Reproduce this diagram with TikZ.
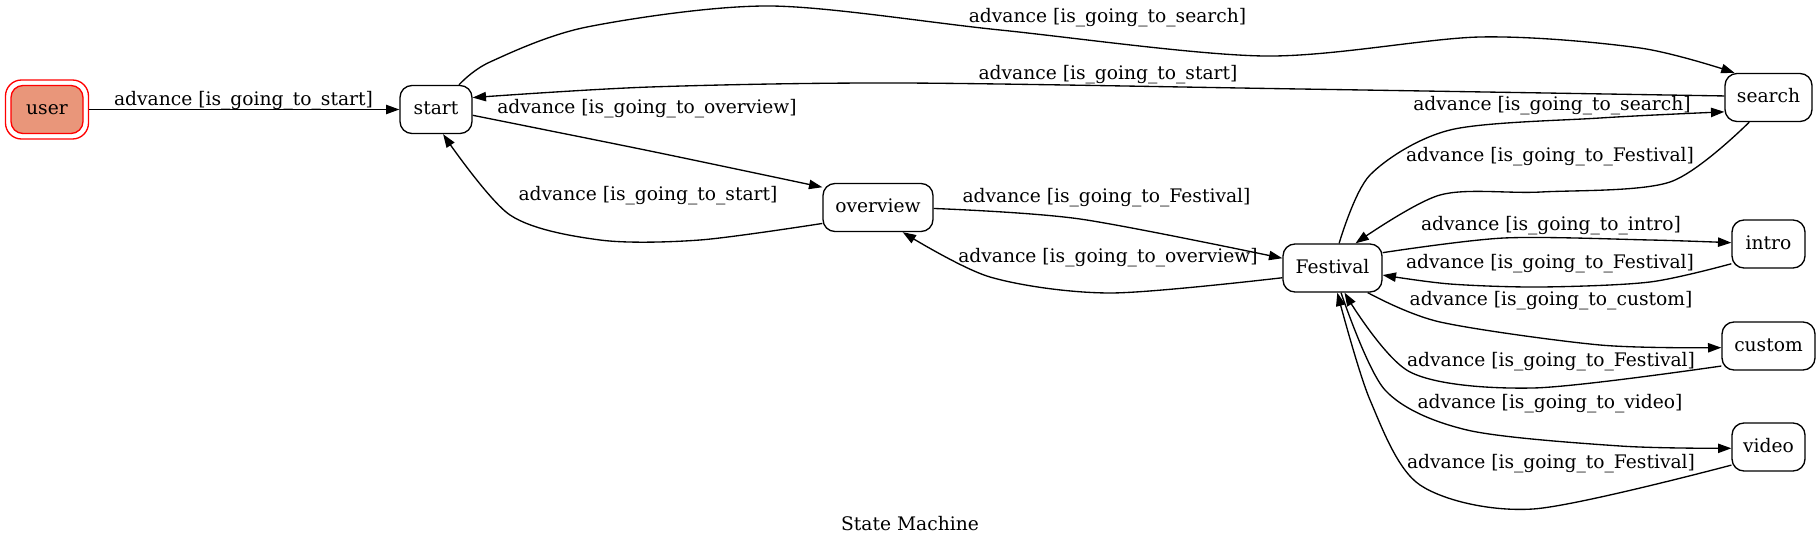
\documentclass[tikz,border=0pt]{standalone}
\usepackage{fontspec}
\setmainfont{DejaVu Serif}
\usetikzlibrary{arrows.meta,positioning}
\definecolor{UserSalmon}{HTML}{E9967A}
\definecolor{UserRed}{HTML}{FF0000}

\begin{document}
\begin{tikzpicture}[
    x=0.75pt, y=-0.75pt,
    font=\fontsize{14pt}{17pt}\selectfont,
    state/.style={draw, rounded corners=9pt, line width=1pt, minimum height=36pt, inner sep=0pt, text height=10.5pt, text depth=2.5pt},
    trans/.style={line width=1pt, -{Triangle[length=10pt, width=7pt]}},
    lbl/.style={inner sep=0pt, anchor=base}
]
  \useasboundingbox (0,0) rectangle (1820,545);

  % Estados
  \node[state, fill=UserSalmon, draw=UserRed, minimum width=54pt] (user) at (47,109.5) {user};
  \node[draw=UserRed, line width=1pt, rounded corners=12pt, minimum width=62.25pt, minimum height=44.25pt, inner sep=0pt] (user_ring) at (user) {};
  \node[state, minimum width=54pt] (start) at (436,109.5) {start};
  \node[state, minimum width=82.5pt] (overview) at (878,207.5) {overview};
  \node[state, minimum width=74.25pt] (festival) at (1332.5,268) {Festival};
  \node[state, minimum width=65.25pt] (search) at (1768.5,97.5) {search};
  \node[state, minimum width=54.75pt] (intro) at (1768.5,244) {intro};
  \node[state, minimum width=69.75pt] (custom) at (1768.5,346) {custom};
  \node[state, minimum width=54.75pt] (video) at (1768.5,447) {video};

  % =========================================================================
  % Transicoes a partir de user / start / overview
  % =========================================================================
  \draw[trans] (user_ring.east) -- (start.west);
  \node[lbl] (lab_user_start) at (243.5,105.5) {advance [is\_going\_to\_start]};

  \draw[trans] plot[smooth] coordinates {(start.47) (490,62) (587,27) (770,6) (1000,30) (1264,56) (1480,37) (1640,48) (search.144)};
  \node[lbl] (lab_start_search) at (1107.5,22.5) {advance [is\_going\_to\_search]};

  \draw[trans] plot[smooth] coordinates {(search.178) (1300,89) (900,83) (650,87) (start.18)};
  \node[lbl] (lab_search_start) at (1108,79.3) {advance [is\_going\_to\_start]};

  \draw[trans] plot[smooth] coordinates {(start.-9) (650,151) (overview.160)};
  \node[lbl] (lab_start_overview) at (647,114) {advance [is\_going\_to\_overview]};

  \draw[trans] plot[smooth] coordinates {(overview.196) (700,240) (600,240) (510,215) (start.-74)};
  \node[lbl] (lab_overview_start) at (648,201) {advance [is\_going\_to\_start]};

  \draw[trans] plot[smooth] coordinates {(overview.-1) (1080,219) (festival.169)};
  \node[lbl] (lab_overview_festival) at (1106.5,202.7) {advance [is\_going\_to\_Festival]};

  \draw[trans] plot[smooth] coordinates {(festival.191) (1110,293) (990,277) (overview.-45)};
  \node[lbl] (lab_festival_overview) at (1108,262.7) {advance [is\_going\_to\_overview]};

  % =========================================================================
  % Transicoes a partir de Festival
  % =========================================================================
  \draw[trans] plot[smooth] coordinates {(festival.75) (1370,175) (1450,130) (1600,118) (search.198)};
  \node[lbl] (lab_festival_search) at (1552,110.7) {advance [is\_going\_to\_search]};

  \draw[trans] plot[smooth] coordinates {(search.-128) (1670,182) (1541,192) (1440,195) (festival.47)};
  \node[lbl] (lab_search_festival) at (1550,161.7) {advance [is\_going\_to\_Festival]};

  \draw[trans] plot[smooth] coordinates {(festival.17) (1504,238) (1650,240) (intro.178)};
  \node[lbl] (lab_festival_intro) at (1551,230.7) {advance [is\_going\_to\_intro]};

  \draw[trans] plot[smooth] coordinates {(intro.208) (1650,282) (1541,287) (1450,284) (festival.-8)};
  \node[lbl] (lab_intro_festival) at (1550,268.3) {advance [is\_going\_to\_Festival]};

  \draw[trans] plot[smooth] coordinates {(festival.-35) (1440,322) (1600,345) (custom.182)};
  \node[lbl] (lab_festival_custom) at (1551,305.3) {advance [is\_going\_to\_custom]};

  \draw[trans] plot[smooth] coordinates {(custom.203) (1533,388) (1410,372) (festival.-64)};
  \node[lbl] (lab_custom_festival) at (1551,366.7) {advance [is\_going\_to\_Festival]};

  \draw[trans] plot[smooth] coordinates {(festival.-71) (1385,390) (1467,430) (1620,446) (video.182)};
  \node[lbl] (lab_festival_video) at (1550,408.3) {advance [is\_going\_to\_video]};

  \draw[trans] plot[smooth] coordinates {(video.206) (1533,509) (1420,485) (1370,400) (festival.-79)};
  \node[lbl] (lab_video_festival) at (1551,468.3) {advance [is\_going\_to\_Festival]};

  % Titulo
  \node[lbl] (title) at (910,530) {State Machine};

\end{tikzpicture}
\end{document}
